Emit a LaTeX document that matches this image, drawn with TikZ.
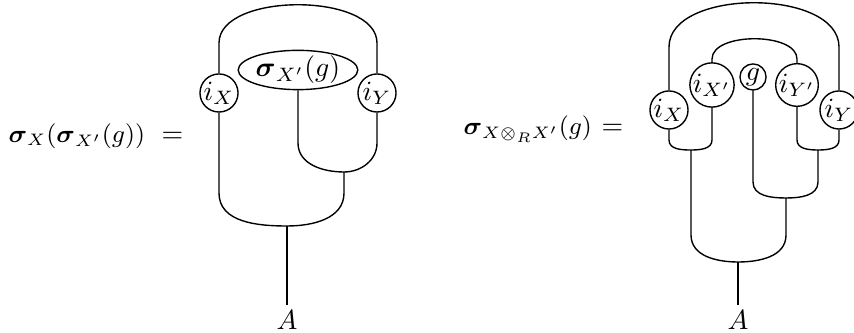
\documentclass[tikz,border=0pt]{standalone}
\usepackage{amsmath,amssymb}
\usetikzlibrary{shapes.geometric}
\begin{document}
\begin{tikzpicture}[x=0.36pt,y=0.36pt, line width=0.5pt,
  bead/.style={circle, draw, inner sep=0pt, minimum size=13.7pt},
  smallbead/.style={circle, draw, inner sep=0pt, minimum size=9.4pt},
  oval/.style={ellipse, draw, inner sep=0pt, minimum width=41.4pt, minimum height=13.3pt},
  lbl/.style={inner sep=0pt, anchor=base east},
  root/.style={anchor=base, inner sep=2pt}]
\useasboundingbox (0,0) rectangle (854,333);
% left diagram
\node[bead] (iXa) at (219,240) {$i_X$};
\node[bead] (iYa) at (377,240) {$i_Y$};
\node[oval] (Ea) at (298,263) {$\boldsymbol{\sigma}_{X'}(g)$};
\coordinate (m1) at (344,161);
\coordinate (m2) at (287,107);
\node[root] (Aa) at (287,3) {$A$};
\draw (iXa.north) -- (219,290) .. controls (219,341) and (377,341) .. (377,290) -- (iYa.north);
\draw (Ea.south) -- (298,190) to[out=-90,in=180] (m1) to[out=0,in=-90] (377,190) -- (iYa.south);
\draw (iXa.south) -- (219,140) to[out=-90,in=180] (m2) to[out=0,in=-90] (344,140) -- (m1);
\draw (m2) -- (Aa.north);
\node[lbl] (La) at (184,190) {\fontsize{9}{11}\selectfont$\boldsymbol{\sigma}_X(\boldsymbol{\sigma}_{X'}(g))$\hspace{6pt}\fontsize{10}{12}\selectfont$=$};
% right diagram
\node[bead] (iXb) at (669,223) {$i_X$};
\node[bead] (iXpb) at (712,248) {$i_{X'}$};
\node[smallbead] (gb) at (753,256) {$g$};
\node[bead] (iYpb) at (797,248) {$i_{Y'}$};
\node[bead] (iYb) at (839,223) {$i_Y$};
\coordinate (m3) at (691,183);
\coordinate (m4) at (818,183);
\coordinate (m5) at (786,135);
\coordinate (m6) at (738,71);
\node[root] (Ab) at (738,3) {$A$};
\draw (iXb.north) -- (669,286) .. controls (669,345) and (839,345) .. (839,286) -- (iYb.north);
\draw (iXpb.north) -- (712,274) .. controls (712,301) and (797,301) .. (797,274) -- (iYpb.north);
\draw (iXb.south) -- (669,193) to[out=-90,in=180] (m3) to[out=0,in=-90] (712,193) -- (iXpb.south);
\draw (iYpb.south) -- (797,193) to[out=-90,in=180] (m4) to[out=0,in=-90] (839,193) -- (iYb.south);
\draw (gb.south) -- (753,151) to[out=-90,in=180] (m5) to[out=0,in=-90] (818,151) -- (m4);
\draw (m3) -- (691,98) to[out=-90,in=180] (m6) to[out=0,in=-90] (786,98) -- (m5);
\draw (m6) -- (Ab.north);
\node[lbl] (Lb) at (624,198) {\fontsize{9}{11}\selectfont$\boldsymbol{\sigma}_{X\otimes_R X'}(g)$\hspace{3.5pt}\fontsize{10}{12}\selectfont$=$};
\end{tikzpicture}
\end{document}
